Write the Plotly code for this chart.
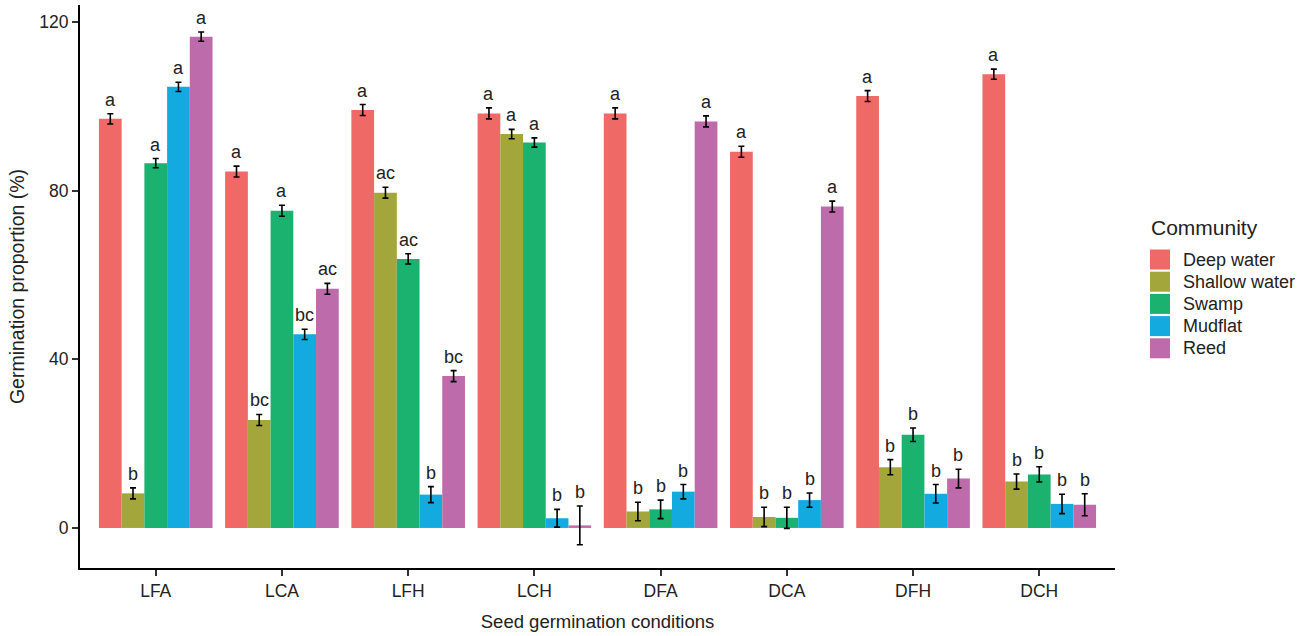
import plotly.graph_objects as go

# Seed germination conditions (x categories)
conditions = ["LFA", "LCA", "LFH", "LCH", "DFA", "DCA", "DFH", "DCH"]

# Source plant communities
communities = ["Deep water", "Shallow water", "Swamp", "Mudflat", "Reed"]
community_colors = ["#EF6966", "#A2A63B", "#1BB16F", "#13AADF", "#BD6BAA"]

# Mean germination proportion (%) per community, one value per condition
deep_water    = [97.0, 84.5, 99.1, 98.3, 98.3, 89.2, 102.4, 107.6]
shallow_water = [8.2, 25.6, 79.5, 93.4, 3.9, 2.6, 14.4, 11.0]
swamp         = [86.5, 75.2, 63.8, 91.4, 4.4, 2.4, 22.1, 12.7]
mudflat       = [104.6, 45.9, 7.9, 2.3, 8.6, 6.6, 8.1, 5.7]
reed          = [116.5, 56.7, 36.0, 0.6, 96.4, 76.2, 11.7, 5.5]

# Standard errors
deep_water_se    = [1.2, 1.3, 1.3, 1.3, 1.3, 1.3, 1.3, 1.2]
shallow_water_se = [1.3, 1.3, 1.3, 1.1, 2.2, 2.3, 1.8, 1.8]
swamp_se         = [1.1, 1.3, 1.2, 1.1, 2.2, 2.5, 1.6, 1.8]
mudflat_se       = [1.1, 1.2, 1.9, 2.1, 1.7, 1.7, 2.2, 2.3]
reed_se          = [1.1, 1.3, 1.3, 4.6, 1.3, 1.3, 2.2, 2.6]

# Significance letters
deep_water_lab    = ["a", "a", "a", "a", "a", "a", "a", "a"]
shallow_water_lab = ["b", "bc", "ac", "a", "b", "b", "b", "b"]
swamp_lab         = ["a", "a", "ac", "a", "b", "b", "b", "b"]
mudflat_lab       = ["a", "bc", "b", "b", "b", "b", "b", "b"]
reed_lab          = ["a", "ac", "bc", "b", "a", "a", "b", "b"]

means = [deep_water, shallow_water, swamp, mudflat, reed]
errors = [deep_water_se, shallow_water_se, swamp_se, mudflat_se, reed_se]
letters = [deep_water_lab, shallow_water_lab, swamp_lab, mudflat_lab, reed_lab]

FONT = "Liberation Sans, Arial, Helvetica, sans-serif"
TEXT = "#222222"
W, H = 1305, 636
ML, MR, MT, MB = 80, 190, 5, 68
PW, PH = W - ML - MR, H - MT - MB

xpos = list(range(len(conditions)))
n = len(communities)
group_w = 0.9
bar_w = group_w / n

fig = go.Figure()
annotations = []
for k, name in enumerate(communities):
    fig.add_trace(go.Bar(
        name=name,
        x=xpos,
        y=means[k],
        marker=dict(color=community_colors[k], line=dict(width=0)),
        error_y=dict(type="data", array=errors[k], visible=True,
                     color="black", thickness=1.6, width=3),
        showlegend=False,
    ))
    offset = (k - (n - 1) / 2) * bar_w
    for i in xpos:
        annotations.append(dict(
            x=i + offset, y=means[k][i] + errors[k][i],
            xref="x", yref="y", text=letters[k][i], showarrow=False,
            yanchor="bottom", xanchor="center", yshift=2,
            font=dict(family=FONT, size=18, color=TEXT),
        ))

# Legend drawn beside the panel
def px_x(p):
    return (p - ML) / PW

def px_y(p):
    return (H - MB - p) / PH

shapes = []
annotations.append(dict(
    x=px_x(1149), y=px_y(227), xref="paper", yref="paper",
    text="Community", showarrow=False, xanchor="left", yanchor="middle",
    font=dict(family=FONT, size=21, color=TEXT),
))
key_top, key_h, key_pitch = 249.5, 20, 22.2
for k, name in enumerate(communities):
    y0 = key_top + k * key_pitch
    shapes.append(dict(
        type="rect", xref="paper", yref="paper",
        x0=px_x(1150), x1=px_x(1170), y0=px_y(y0 + key_h), y1=px_y(y0),
        fillcolor=community_colors[k], line=dict(width=0),
    ))
    annotations.append(dict(
        x=px_x(1181), y=px_y(y0 + key_h / 2), xref="paper", yref="paper",
        text=name, showarrow=False, xanchor="left", yanchor="middle",
        font=dict(family=FONT, size=18, color=TEXT),
    ))

fig.update_layout(
    width=W, height=H,
    margin=dict(l=ML, r=MR, t=MT, b=MB),
    paper_bgcolor="white", plot_bgcolor="white",
    barmode="group", bargap=0.1, bargroupgap=0,
    font=dict(family=FONT, color=TEXT),
    annotations=annotations,
    shapes=shapes,
    showlegend=False,
)
fig.update_xaxes(
    range=[-0.6, len(conditions) - 0.4],
    tickvals=xpos, ticktext=conditions,
    showline=True, linecolor="black", linewidth=2,
    ticks="outside", ticklen=6, tickwidth=1.5, tickcolor="#333333",
    tickfont=dict(family=FONT, size=17.5, color=TEXT),
    showgrid=False, zeroline=False,
    title=dict(text="Seed germination conditions", standoff=15,
               font=dict(family=FONT, size=18.5, color=TEXT)),
)
fig.update_yaxes(
    range=[-9.5, 124],
    tickvals=[0, 40, 80, 120],
    showline=True, linecolor="black", linewidth=2,
    ticks="outside", ticklen=6, tickwidth=1.5, tickcolor="#333333",
    tickfont=dict(family=FONT, size=17.5, color=TEXT),
    showgrid=False, zeroline=False,
    title=dict(text="Germination proportion (%)", standoff=9,
               font=dict(family=FONT, size=19.5, color=TEXT)),
)

fig.write_html("out.html")
